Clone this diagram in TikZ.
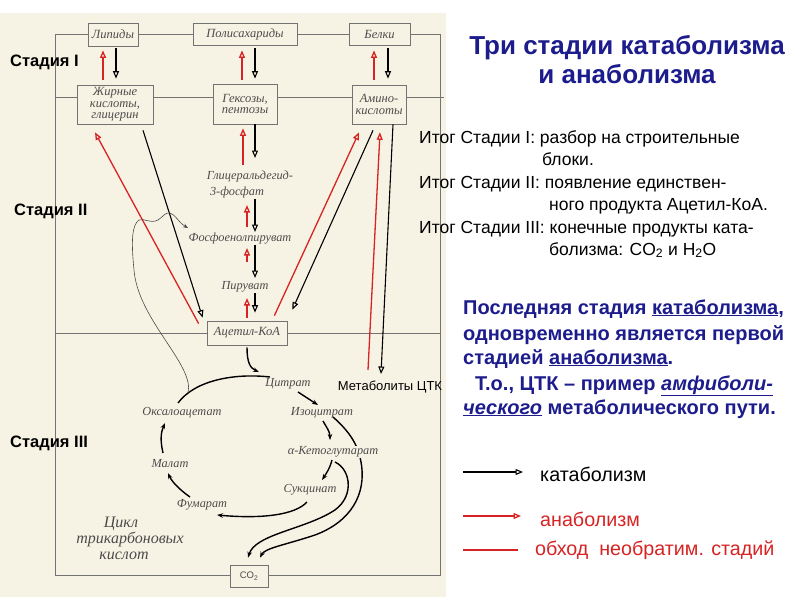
\documentclass[tikz,border=0pt]{standalone}
\usepackage{fontspec}
\setmainfont{Liberation Sans}
\newfontfamily\dserif{Liberation Serif}
\usetikzlibrary{arrows.meta,calc}
\definecolor{cream}{RGB}{247,243,228}
\definecolor{myred}{RGB}{215,35,35}
\definecolor{navy}{RGB}{28,28,140}
\definecolor{framec}{RGB}{115,115,115}
\definecolor{labc}{RGB}{75,75,75}
\begin{document}
\begin{tikzpicture}[x=1pt,y=-1pt,
  framel/.style={draw=framec,line width=0.7pt},
  box/.style={draw=framec,fill=cream,line width=0.7pt,inner sep=1pt,align=center,font=\dserif\itshape\fontsize{12.5}{11.5}\selectfont,text=labc},
  met/.style={font=\dserif\itshape\fontsize{12.3}{13}\selectfont,text=labc,inner sep=1pt},
  cat/.style={draw=black,line width=1.1pt,-{Triangle[open,length=7.5pt,width=6pt]}},
  ana/.style={draw=myred,line width=1.3pt,-{Triangle[open,length=7.5pt,width=6pt]}},
  cyc/.style={draw=black,line width=1.4pt,-{Stealth[length=6pt,width=4.5pt]}},
  stage/.style={font=\bfseries\fontsize{16.5}{19}\selectfont,anchor=west,inner sep=0},
  body/.style={font=\fontsize{17.5}{20}\selectfont,anchor=base west,inner sep=0},
  bluetxt/.style={font=\bfseries\fontsize{20}{23}\selectfont,text=navy,anchor=base west,inner sep=0},
  legtxt/.style={font=\fontsize{19.7}{22}\selectfont,anchor=base west,inner sep=0},
  cyltxt/.style={font=\dserif\itshape\fontsize{16}{16}\selectfont,text=labc,inner sep=0},
]
\fill[white] (0,0) rectangle (800,600);
\fill[cream] (0,13) rectangle (446,597);
\useasboundingbox (0,0) rectangle (800,600);

% frame
\draw[framel] (55,34) -- (440,34) -- (440,575) -- (55,575) -- cycle;
\draw[framel] (55,97) -- (444,97);
\draw[framel] (55,333) -- (440,333);

% boxes
\node[box,minimum width=50pt,minimum height=23pt] (lip) at (113,34.5) {Липиды};
\node[box,minimum width=104pt,minimum height=22pt] (pol) at (245,34) {Полисахариды};
\node[box,minimum width=61pt,minimum height=22pt] (bel) at (379.5,34) {Белки};
\node[box,minimum width=76pt,minimum height=39pt] (fat) at (115,104.5) {Жирные\\кислоты,\\глицерин};
\node[box,minimum width=64pt,minimum height=40pt] (hex) at (245,104) {Гексозы,\\пентозы};
\node[box,minimum width=54pt,minimum height=39pt] (ami) at (379,104.5) {Амино-\\кислоты};
\node[box,minimum width=80pt,minimum height=24pt] (acc) at (247,333) {Ацетил-КоА};
\node[box,minimum width=38pt,minimum height=22pt,font=\fontsize{9.5}{10}\selectfont] (co2) at (249,576) {CO\textsubscript{2}};

% stage labels
\node[stage] (s1) at (10,62) {Стадия I};
\node[stage] (s2) at (14,211) {Стадия II};
\node[stage] (s3) at (10,443) {Стадия III};

% stage I arrows
\draw[ana] ($(fat.north)+(-12,-5)$) -- ($(lip.south)+(-10,4)$);
\draw[cat] ($(lip.south)+(3,2)$) -- ($(fat.north)+(1,-6)$);
\draw[ana] ($(hex.north)+(-3,-4)$) -- ($(pol.south)+(-3,5)$);
\draw[cat] ($(pol.south)+(10,3)$) -- ($(hex.north)+(10,-5)$);
\draw[ana] ($(ami.north)+(-5,-5)$) -- ($(bel.south)+(-5.5,5)$);
\draw[cat] ($(bel.south)+(8.5,3)$) -- ($(ami.north)+(9,-6)$);

% stage II labels
\node[met] (g3p) at (250,177) {Глицеральдегид-};
\node[met] (g3pb) at (237,193) {3-фосфат};
\node[met] (pep) at (240,239) {Фосфоенолпируват};
\node[met] (pyr) at (245,287) {Пируват};

% glycolysis column
\draw[ana] ($(g3p)+(-7,-12)$) -- ($(hex.south)+(-2,4)$);
\draw[cat] ($(hex.south)+(10,0)$) -- ($(g3p)+(5,-19)$);
\draw[ana] ($(pep)+(7,-12)$) -- ($(g3pb)+(10,12)$);
\draw[cat] ($(g3pb)+(18,6)$) -- ($(pep)+(15,-7)$);
\draw[ana] ($(pyr)+(2,-25)$) -- ($(pep)+(7,9)$);
\draw[cat] ($(pep)+(15,6)$) -- ($(pyr)+(10,-9)$);
\draw[ana] ($(acc.north)+(0,-3)$) -- ($(pyr)+(2,11)$);
\draw[cat] ($(pyr)+(10,6)$) -- ($(acc.north)+(8,-8)$);

% fatty acids
\draw[ana] ($(acc.north west)+(-8,3)$) -- ($(fat.south)+(-20,8)$);
\draw[cat] ($(fat.south)+(28,6)$) -- ($(acc.north west)+(-4,-3)$);

% amino acids
\node[font=\fontsize{13}{14}\selectfont,inner sep=1pt] (metl) at (390,387) {Метаболиты ЦТК};
\draw[ana] ($(acc.north east)+(-13,-5)$) -- ($(ami.south)+(-20,8)$);
\draw[cat] ($(ami.south)+(-6,6)$) -- ($(acc.north east)+(5,-11)$);
\draw[ana] ($(metl)+(-22,-17)$) -- ($(ami.south)+(1,8)$);
\draw[cat] ($(ami.south)+(14,0)$) -- ($(metl)+(-9,-13)$);

% stage III cycle labels
\node[met] (cit) at (288,384) {Цитрат};
\node[met] (iso) at (322,413) {Изоцитрат};
\node[met] (oaa) at (182,413) {Оксалоацетат};
\node[met] (mal) at (170,464) {Малат};
\node[met] (suc) at (310,490) {Сукцинат};
\node[met] (fum) at (202,505) {Фумарат};

% iso branch to CO2 (passes behind alpha-KG label)
\draw[cyc] ($(iso)+(11,4)$) .. controls (350,432) and (358,445) .. (361,462)
   .. controls (367,495) and (350,522) .. (315,535)
   .. controls (285,545) and (265,548) .. ($(co2.north)+(11,-7)$);
\node[met,fill=cream] (akg) at (333,452) {α-Кетоглутарат};

\draw[cyc] ($(acc.south)+(0,2)$) .. controls (247,362) and (250,368) .. ($(cit)+(-29,-12)$);
\draw[draw=black,line width=1.4pt] ($(oaa)+(-4,-10)$) .. controls (195,380) and (235,373) .. ($(cit)+(-18,-7)$);
\draw[draw=labc,line width=0.6pt,-{Stealth[length=5pt,width=4pt]}] ($(oaa)+(6,-20)$)
   .. controls (195,365) and (138,320) .. (134,270)
   .. controls (131,240) and (132,225) .. (139,220)
   .. controls (145,218) and (150,224) .. (158,220)
   .. controls (163,217) and (165,212) .. (170,213)
   .. controls (176,215) and (178,222) .. ($(pep)+(-52,-11)$);
\draw[cyc] ($(cit)+(10,8)$) -- ($(iso)+(-4,-8)$);
\draw[cyc] ($(iso)+(1,8)$) .. controls (327,428) and (330,432) .. ($(akg)+(-3,-12)$);
\draw[cyc] ($(akg)+(-1,8)$) .. controls (330,468) and (326,474) .. ($(suc)+(12,-10)$);
\draw[cyc] ($(akg)+(2,10)$) .. controls (352,470) and (355,500) .. (330,513)
   .. controls (300,530) and (255,535) .. ($(co2.north)+(-1,-7)$);
\draw[cyc] ($(suc)+(-3,12)$) .. controls (295,515) and (262,519) .. ($(fum)+(15,10)$);
\draw[cyc] ($(fum)+(-12,-8)$) .. controls (180,490) and (172,482) .. ($(mal)+(-2,9)$);
\draw[cyc] ($(mal)+(-7,-11)$) .. controls (160,440) and (161,432) .. ($(oaa)+(-17,10)$);

\node[cyltxt,anchor=base] (cyl1) at (121,527) {Цикл};
\node[cyltxt,anchor=base] (cyl2) at (130,543) {трикарбоновых};
\node[cyltxt,anchor=base] (cyl3) at (124,559) {кислот};

% right side text
\node[font=\bfseries\fontsize{26}{29}\selectfont,text=navy,align=center] (title) at (627,60) {Три стадии катаболизма\\и анаболизма};

\node[body] (t1) at (419,143) {Итог Стадии I: разбор на строительные};
\node[body] (t1b) at (542,165) {блоки.};
\node[body] (t2) at (419,188) {Итог Стадии II: появление единствен-};
\node[body] (t2b) at (549,210) {ного продукта Ацетил-КоА.};
\node[body] (t3) at (419,233) {Итог Стадии III: конечные продукты ката-};
\node[body] (t3b) at (549,255) {болизма: CO\textsubscript{2} и H\textsubscript{2}O};

\node[bluetxt] (b1) at (463,314) {Последняя стадия \underline{катаболизма},};
\node[bluetxt] (b2) at (463,340) {одновременно является первой};
\node[bluetxt] (b3) at (463,364) {стадией \underline{анаболизма}.};
\node[bluetxt] (b4) at (475,390) {Т.о., ЦТК – пример \underline{\textit{амфиболи-}}};
\node[bluetxt] (b5) at (463,414) {\underline{\textit{ческого}} метаболического пути.};

% legend
\coordinate (l1a) at (463,472); \coordinate (l1b) at (523,472);
\coordinate (l2a) at (463,516); \coordinate (l2b) at (521,516);
\coordinate (l3a) at (463,550); \coordinate (l3b) at (518,550);
\draw[cat] (l1a) -- (l1b);
\draw[ana] (l2a) -- (l2b);
\draw[myred,line width=1.3pt] (l3a) -- (l3b);
\node[legtxt] (lg1) at (540,481) {катаболизм};
\node[legtxt,text=myred] (lg2) at (540,526) {анаболизм};
\node[legtxt,text=myred] (lg3) at (535,555) {обход\ \ необратим. стадий};
\end{tikzpicture}
\end{document}
